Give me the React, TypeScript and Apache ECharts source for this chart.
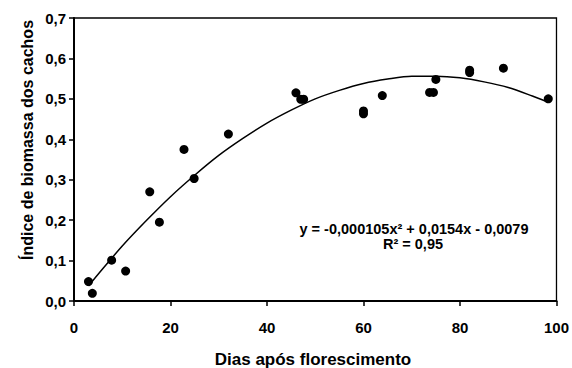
import React, { useEffect, useRef } from "react";
import * as echarts from "echarts";

// Observed points (days after flowering, bunch biomass index)
const obsDays = [3, 3.8, 7.8, 10.7, 15.7, 17.7, 22.8, 24.9, 32, 46, 47, 47.6, 60, 60, 63.9, 73.7, 74.5, 75, 82, 82, 89, 98.3];
const obsIndex = [0.048, 0.019, 0.101, 0.074, 0.27, 0.195, 0.375, 0.303, 0.413, 0.515, 0.499, 0.499, 0.47, 0.463, 0.508, 0.516, 0.516, 0.548, 0.571, 0.565, 0.576, 0.5];

// Fitted curve
const fitDays = [3, 5, 10, 15, 20, 25, 30, 35, 40, 45, 50, 55, 60, 65, 70, 75, 80, 85, 90, 95, 98];
const fitIndex = [0.037, 0.066, 0.136, 0.199, 0.258, 0.311, 0.36, 0.402, 0.44, 0.472, 0.5, 0.521, 0.538, 0.549, 0.556, 0.556, 0.552, 0.542, 0.528, 0.507, 0.493];

const xTitle = "Dias após florescimento";
const yTitle = "Índice de biomassa dos cachos";
const equation = "y = -0,000105x² + 0,0154x - 0,0079";
const r2 = "R² = 0,95";

const FONT = "'Liberation Sans', Arial, sans-serif";

export default function App() {
  const ref = useRef<HTMLDivElement>(null);
  useEffect(() => {
    if (!ref.current) return;
    const chart = echarts.init(ref.current, null, { renderer: "svg" });
    chart.setOption({
      animation: false,
      backgroundColor: "#fff",
      grid: {
        left: 74,
        right: 15,
        top: 18,
        bottom: 67,
        show: true,
        borderColor: "#000",
        borderWidth: 1.3,
      },
      xAxis: {
        type: "value",
        min: 0,
        max: 100,
        interval: 20,
        axisLine: { show: true, onZero: false, lineStyle: { color: "#000", width: 2 } },
        axisTick: { show: true, length: 5, lineStyle: { color: "#000", width: 1.5 } },
        axisLabel: {
          margin: 19,
          color: "#000",
          fontFamily: FONT,
          fontWeight: "bold",
          fontSize: 15,
        },
        splitLine: { show: false },
      },
      yAxis: {
        type: "value",
        min: 0,
        max: 0.7,
        interval: 0.1,
        axisLine: { show: true, onZero: false, lineStyle: { color: "#000", width: 2 } },
        axisTick: { show: true, length: 5, lineStyle: { color: "#000", width: 1.5 } },
        axisLabel: {
          margin: 8,
          color: "#000",
          fontFamily: FONT,
          fontWeight: "bold",
          fontSize: 15,
          formatter: (v: number) => v.toFixed(1).replace(".", ","),
        },
        splitLine: { show: false },
      },
      series: [
        {
          type: "line",
          data: fitDays.map((d, i) => [d, fitIndex[i]]),
          showSymbol: false,
          smooth: 0.3,
          lineStyle: { color: "#000", width: 1.5 },
          silent: true,
          z: 2,
        },
        {
          type: "scatter",
          data: obsDays.map((d, i) => [d, obsIndex[i]]),
          symbol: "circle",
          symbolSize: 9,
          itemStyle: { color: "#000", opacity: 1 },
          z: 3,
        },
      ],
      graphic: [
        {
          type: "text",
          x: 313,
          y: 359,
          style: {
            text: xTitle,
            fill: "#000",
            font: `bold 17px ${FONT}`,
            align: "center",
            verticalAlign: "middle",
          },
        },
        {
          type: "text",
          x: 27,
          y: 140,
          rotation: Math.PI / 2,
          style: {
            text: yTitle,
            fill: "#000",
            font: `bold 16px ${FONT}`,
            align: "center",
            verticalAlign: "middle",
          },
        },
        {
          type: "text",
          x: 414,
          y: 229,
          style: {
            text: equation,
            fill: "#000",
            font: `bold 14.5px ${FONT}`,
            align: "center",
            verticalAlign: "middle",
          },
        },
        {
          type: "text",
          x: 413,
          y: 244,
          style: {
            text: r2,
            fill: "#000",
            font: `bold 14.5px ${FONT}`,
            align: "center",
            verticalAlign: "middle",
          },
        },
      ],
    });
    return () => chart.dispose();
  }, []);
  return (
    <div
      ref={ref}
      style={{ position: "fixed", left: 0, top: 0, width: 572, height: 368, background: "#fff" }}
    />
  );
}
